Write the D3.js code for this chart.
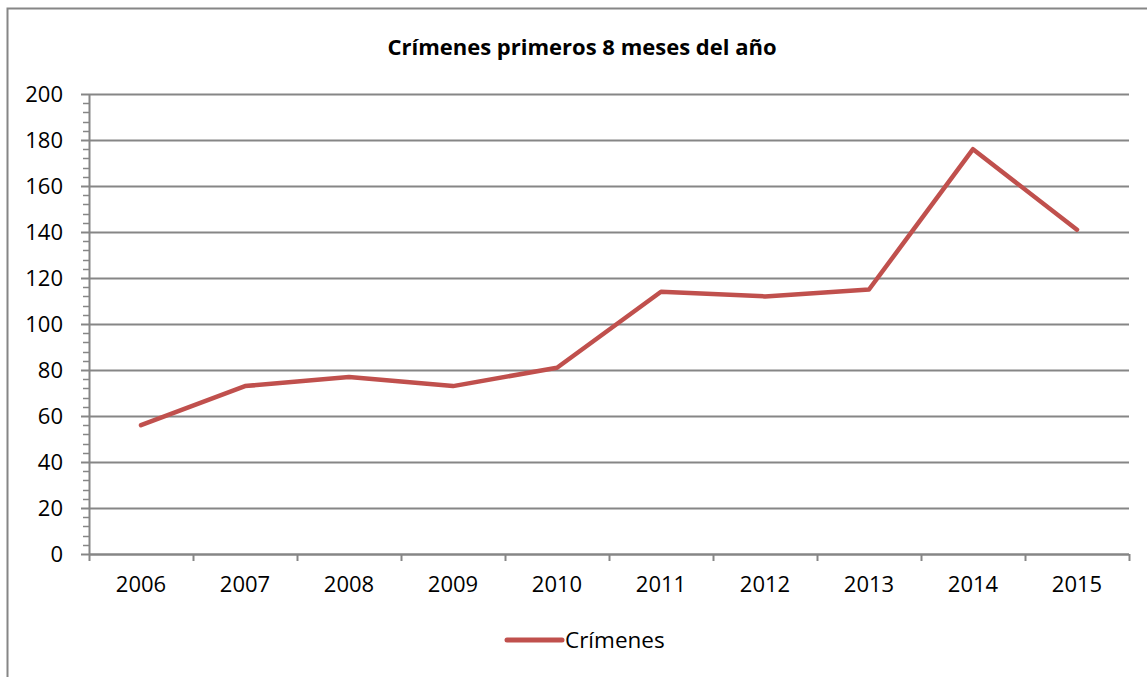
<!DOCTYPE html>
<html>
<head>
<meta charset="utf-8">
<script src="https://cdn.jsdelivr.net/npm/d3@7"></script>
<style>
  html, body { margin: 0; padding: 0; background: #fff; }
  svg { display: block; }
  text { font-family: "Open Sans", "Lato", sans-serif; fill: #000; }
</style>
</head>
<body>
<svg id="chart" width="1147" height="677"></svg>
<script>
// Crímenes registrados en los primeros 8 meses de cada año
const years = ["2006", "2007", "2008", "2009", "2010", "2011", "2012", "2013", "2014", "2015"];
const crimes = [56, 73, 77, 73, 81, 114, 112, 115, 176, 141];
const yTicks = [0, 20, 40, 60, 80, 100, 120, 140, 160, 180, 200];
const seriesName = "Crímenes";
const chartTitle = "Crímenes primeros 8 meses del año";

const svg = d3.select("#chart");
const W = 1147, H = 677;
const plot = { left: 89, right: 1129, top: 94, bottom: 554 };
const gridColor = "#868686";
const lineColor = "#C0504D";

// Chart frame
svg.append("rect")
  .attr("x", 7.5).attr("y", 8.5)
  .attr("width", W + 10).attr("height", H + 10)
  .attr("fill", "#fff").attr("stroke", gridColor).attr("stroke-width", 2);

const x = d3.scaleBand().domain(years).range([plot.left, plot.right]).padding(0);
const y = d3.scaleLinear().domain([0, 200]).range([plot.bottom, plot.top]);

// Title
svg.append("text")
  .attr("x", 582).attr("y", 55)
  .attr("text-anchor", "middle")
  .style("font-weight", "bold").style("font-size", "22px")
  .text(chartTitle);

// Horizontal gridlines
svg.append("g")
  .selectAll("line")
  .data(yTicks.filter(d => d > 0))
  .join("line")
  .attr("x1", plot.left).attr("x2", plot.right)
  .attr("y1", d => Math.round(y(d)) + 0.5).attr("y2", d => Math.round(y(d)) + 0.5)
  .attr("stroke", gridColor).attr("stroke-width", 2);

// Y axis with major and minor ticks
const minor = d3.range(0, 201, 4).filter(d => d % 20 !== 0);
const yAxisG = svg.append("g").attr("transform", `translate(${plot.left},0)`);
yAxisG.selectAll("line.minor")
  .data(minor)
  .join("line").attr("class", "minor")
  .attr("x1", -6).attr("x2", 1)
  .attr("y1", d => Math.round(y(d)) + 0.5).attr("y2", d => Math.round(y(d)) + 0.5)
  .attr("stroke", gridColor).attr("stroke-width", 1.5);
yAxisG.call(d3.axisLeft(y).tickValues(yTicks).tickSize(8).tickPadding(18).tickFormat(d3.format("d")));
yAxisG.select(".domain").attr("stroke", gridColor).attr("stroke-width", 2).attr("d", `M0.5,${plot.top}V${plot.bottom}`);
yAxisG.selectAll(".tick line").attr("stroke", gridColor).attr("stroke-width", 2);
yAxisG.selectAll(".tick text").style("font-size", "22px").attr("fill", "#000");

// X axis: ticks at category boundaries, labels centred in each band
const xAxisG = svg.append("g").attr("transform", `translate(0,${plot.bottom})`);
xAxisG.append("line")
  .attr("x1", plot.left).attr("x2", plot.right)
  .attr("y1", 0.5).attr("y2", 0.5)
  .attr("stroke", gridColor).attr("stroke-width", 2.5);
const boundaries = years.map(d => x(d)).concat([x(years[years.length - 1]) + x.bandwidth()]);
xAxisG.selectAll("line.tick")
  .data(boundaries)
  .join("line").attr("class", "tick")
  .attr("x1", d => Math.round(d) + 0.5).attr("x2", d => Math.round(d) + 0.5)
  .attr("y1", 0).attr("y2", 7)
  .attr("stroke", gridColor).attr("stroke-width", 2);
xAxisG.selectAll("text")
  .data(years)
  .join("text")
  .attr("x", d => x(d) + x.bandwidth() / 2)
  .attr("y", 38)
  .attr("text-anchor", "middle")
  .style("font-size", "22px")
  .text(d => d);

// Data line
const line = d3.line()
  .x((d, i) => x(years[i]) + x.bandwidth() / 2)
  .y(d => y(d));
svg.append("path")
  .datum(crimes)
  .attr("d", line)
  .attr("fill", "none")
  .attr("stroke", lineColor)
  .attr("stroke-width", 4.5)
  .attr("stroke-linejoin", "round")
  .attr("stroke-linecap", "round");

// Legend
const lg = svg.append("g").attr("transform", "translate(507,640)");
lg.append("line")
  .attr("x1", 0).attr("x2", 55).attr("y1", 0).attr("y2", 0)
  .attr("stroke", lineColor).attr("stroke-width", 5).attr("stroke-linecap", "round");
lg.append("text")
  .attr("x", 58).attr("y", 0).attr("dy", "0.35em")
  .style("font-size", "22.5px")
  .text(seriesName);
</script>
</body>
</html>
